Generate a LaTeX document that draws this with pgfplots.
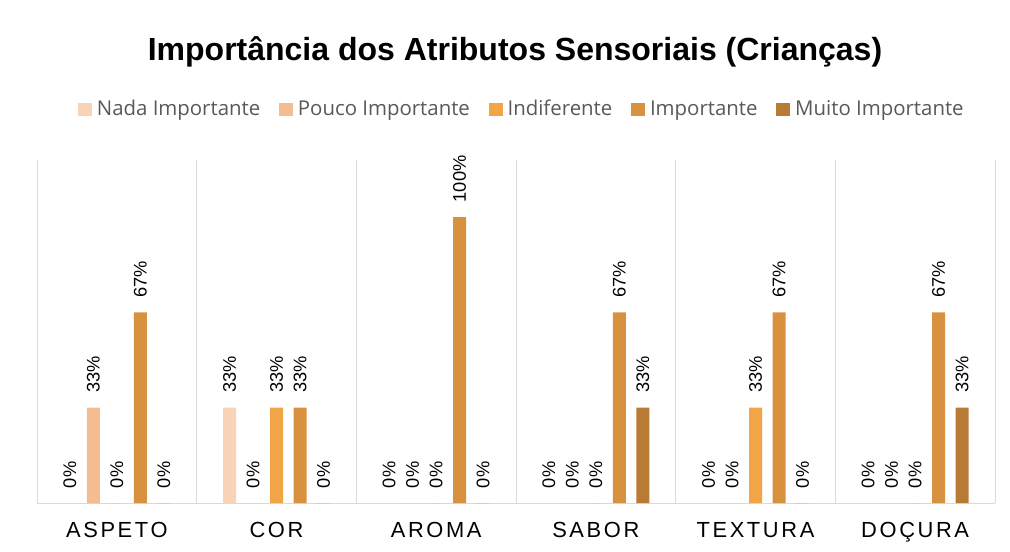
\documentclass[border=0pt]{standalone}
\usepackage{pgfplots}
\pgfplotsset{compat=1.18}
\usepackage{pgfplotstable}
\usepackage{fontspec}
\setmainfont{Liberation Sans}
\newfontfamily\catfont[LetterSpace=12]{Liberation Sans}
\newfontfamily\legfont{Open Sans}

\definecolor{cNada}{HTML}{F8D3B8}
\definecolor{cPouco}{HTML}{F4BD91}
\definecolor{cIndif}{HTML}{F1A546}
\definecolor{cImp}{HTML}{D8923F}
\definecolor{cMuito}{HTML}{B87B36}
\definecolor{gridgray}{HTML}{D9D9D9}
\definecolor{legtext}{HTML}{595959}

% percentages per attribute (0 = ASPETO ... 5 = DOCURA)
\pgfplotstableread{
x nada  pouco indif imp    muito
0 0     33.33 0     66.67  0
1 33.33 0     33.33 33.33  0
2 0     0     0     100    0
3 0     0     0     66.67  33.33
4 0     0     33.33 66.67  0
5 0     0     0     66.67  33.33
}\sens

\begin{document}
\begin{tikzpicture}
  \path[use as bounding box] (0,0) rectangle (757.5pt,-413.25pt);
  \node[font=\fontsize{24}{28}\selectfont\bfseries] at (386.25pt,-39pt)
    {Importância dos Atributos Sensoriais (Crianças)};
  \begin{axis}[
      at={(27.75pt,-377.25pt)}, anchor=south west,
      scale only axis, width=718.5pt, height=257.25pt,
      ybar=7.875pt, bar width=9.75pt,
      xmin=-0.5, xmax=5.5, ymin=0, ymax=120,
      axis x line=bottom, axis y line=none,
      x axis line style={gridgray, line width=0.75pt, -},
      xtick=data,
      xticklabels={ASPETO,COR,AROMA,SABOR,TEXTURA,DOÇURA},
      xticklabel style={anchor=base, yshift=-25.5pt,
        font=\catfont\fontsize{16.4}{18}\selectfont},
      major tick length=0pt,
      minor xtick={-0.5,0.5,...,5.5},
      minor tick length=0pt,
      xminorgrids, minor grid style={gridgray, line width=0.75pt},
      clip=false,
      nodes near coords={\pgfmathprintnumber[fixed,precision=0]{\pgfplotspointmeta}\%},
      nodes near coords style={rotate=90, anchor=west, inner xsep=11pt,
        inner ysep=0pt, font=\fontsize{13.7}{15}\selectfont, black},
      /pgf/number format/assume math mode=true,
      legend columns=-1,
      legend style={at={(0.505,1.146)}, anchor=center, draw=none,
        font=\legfont\fontsize{15.3}{17}\selectfont, text=legtext,
        nodes={inner xsep=0pt, text height=0.95em, text depth=0.15em},
        /tikz/every odd column/.append style={column sep=3.75pt},
        /tikz/every even column/.append style={column sep=14pt}},
      legend image code/.code={\fill[#1] (0pt,-4.9pt) rectangle (10.5pt,4.9pt);},
    ]
    \addplot[fill=cNada, draw=none] table[x=x, y=nada] {\sens};
    \addplot[fill=cPouco, draw=none] table[x=x, y=pouco] {\sens};
    \addplot[fill=cIndif, draw=none] table[x=x, y=indif] {\sens};
    \addplot[fill=cImp, draw=none] table[x=x, y=imp] {\sens};
    \addplot[fill=cMuito, draw=none] table[x=x, y=muito] {\sens};
    \legend{Nada Importante, Pouco Importante, Indiferente, Importante, Muito Importante}
  \end{axis}
\end{tikzpicture}
\end{document}
